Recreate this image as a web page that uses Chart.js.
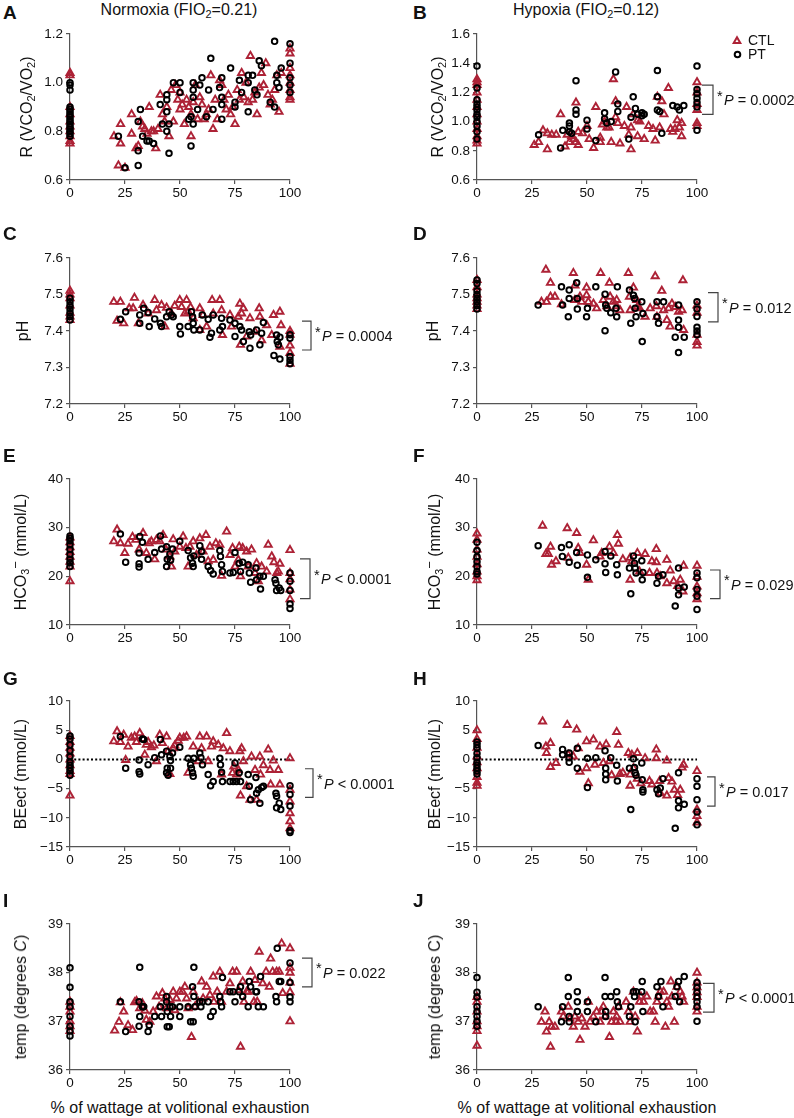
<!DOCTYPE html>
<html>
<head>
<meta charset="utf-8">
<script src="https://cdn.jsdelivr.net/npm/chart.js@4.4.1/dist/chart.umd.min.js"></script>
<style>
  body { margin: 0; background: #fff; font-family: "Liberation Sans", Arial, sans-serif; color: #111; }
  #page { position: relative; width: 794px; height: 1118px; overflow: hidden; }
  canvas { position: absolute; }
  .letter { position: absolute; font-weight: bold; font-size: 19px; line-height: 19px; }
  .coltitle { position: absolute; font-size: 16px; line-height: 18px; white-space: nowrap; transform: translateX(-50%); }
  .ylab { position: absolute; font-size: 16px; line-height: 18px; white-space: nowrap; transform: translate(-50%, -50%) rotate(-90deg); }
  .xlab { position: absolute; font-size: 16px; line-height: 18px; white-space: nowrap; transform: translate(-50%, -50%); }
  sub { font-size: 68%; vertical-align: -0.3em; line-height: 0; }
  sup { font-size: 80%; vertical-align: 0.45em; line-height: 0; }
</style>
</head>
<body>
<div id="page"></div>
<script>
// ── Data (x = % of wattage, y = measured value) ─────────────────────────────

var xTicks = [0, 25, 50, 75, 100];
var zeroLineX = [0, 100];

// A: R normoxia
var aCTL = [[0,1.04],[0,1.03],[0,0.90],[0,0.87],[0,0.84],[0,0.82],[0,0.80],[0,0.78],[0,0.76],[0,0.75],
  [20,0.78],[22,0.66],[23,0.83],[23,0.75],[25,0.65],[28,0.87],[28,0.79],[30,0.73],[31,0.74],[32,0.84],
  [33,0.82],[34,0.81],[35,0.79],[36,0.90],[37,0.80],[38,0.80],[39,0.73],[40,0.81],[41,0.95],[42,0.87],
  [43,0.84],[44,0.90],[45,0.78],[46,0.97],[47,0.84],[48,0.99],[49,0.93],[50,0.89],[50,0.96],[51,0.91],
  [52,0.83],[53,0.93],[54,0.90],[55,0.78],[55,0.87],[56,0.92],[57,0.99],[58,0.85],[59,0.94],[60,0.91],
  [61,0.85],[62,0.87],[63,0.89],[64,1.03],[65,0.81],[66,0.93],[67,0.85],[68,1.01],[69,0.99],[70,0.93],
  [71,0.89],[72,0.95],[73,0.87],[74,0.90],[75,0.83],[76,0.97],[77,0.93],[78,1.04],[79,0.94],[80,1.00],
  [81,0.92],[82,1.11],[83,0.93],[84,0.96],[85,0.87],[86,0.98],[87,1.04],[88,0.99],[89,1.08],[90,0.95],
  [91,0.91],[92,0.93],[93,0.97],[94,1.03],[95,0.88],[96,1.04],
  [100,1.14],[100,1.12],[100,1.06],[100,1.03],[100,1.00],[100,0.97],[100,0.94],[100,0.93]];
var aPT = [[0,1.00],[0,0.99],[0,0.97],[0,0.90],[0,0.89],[0,0.88],[0,0.87],[0,0.86],[0,0.85],[0,0.84],
  [0,0.83],[0,0.82],[0,0.81],[0,0.80],[0,0.79],[0,0.78],
  [22,0.78],[25,0.65],[31,0.84],[31,0.72],[31,0.66],[32,0.89],[33,0.78],[35,0.76],[36,0.76],[38,0.75],
  [41,0.91],[42,0.83],[44,0.95],[44,0.93],[44,0.80],[44,0.88],[45,0.83],[45,0.71],[47,1.00],[50,1.00],
  [50,0.96],[54,0.85],[55,0.86],[55,0.74],[56,1.00],[56,0.97],[56,0.94],[56,0.83],[58,0.89],[59,0.99],
  [60,1.02],[62,0.86],[63,0.97],[64,1.10],[65,0.89],[68,0.98],[69,1.02],[69,0.94],[69,0.91],[69,0.85],
  [73,1.06],[75,0.92],[75,0.90],[77,1.01],[78,0.96],[81,1.03],[81,1.00],[81,0.88],[83,1.03],[84,0.97],
  [85,0.95],[86,1.09],[87,1.07],[91,0.92],[93,1.17],[93,0.90],[94,1.03],[94,1.00],[95,0.98],[96,1.06],
  [100,1.16],[100,1.08],[100,1.02],[100,0.99],[100,0.96]];

// B: R hypoxia
var bCTL = [[0,1.29],[0,1.27],[0,1.25],[0,1.20],[0,1.15],[0,1.10],[0,1.05],[0,1.00],[0,0.95],[0,0.90],[0,0.87],[0,0.85],
  [26,0.84],[28,0.86],[30,0.94],[32,0.81],[32,0.92],[34,0.91],[36,0.91],[38,1.05],[40,0.83],[41,0.91],
  [42,0.86],[43,0.90],[44,0.88],[45,1.13],[45,0.86],[46,0.93],[46,0.84],[48,0.92],[50,0.97],[51,0.88],
  [53,0.82],[54,1.10],[56,0.89],[56,0.86],[57,0.98],[58,1.00],[59,0.96],[60,0.96],[61,0.86],[62,1.29],
  [63,1.14],[63,1.03],[64,0.99],[65,0.85],[67,0.97],[68,1.10],[69,0.91],[70,0.96],[70,0.81],[71,1.05],
  [73,1.01],[73,0.90],[74,1.00],[76,0.88],[78,0.97],[80,0.95],[81,0.87],[82,1.17],[83,0.96],[84,1.14],
  [85,1.05],[87,1.23],[88,0.95],[89,0.93],[90,0.95],[91,1.01],[92,0.96],[93,0.99],[93,0.90],
  [100,1.27],[100,1.20],[100,1.12],[100,1.08],[100,0.99],[100,0.97]];
var bPT = [[0,1.38],[0,1.23],[0,1.15],[0,1.12],[0,1.10],[0,1.08],[0,1.05],[0,1.03],[0,1.00],[0,0.97],[0,0.93],[0,0.88],
  [28,0.91],[38,0.82],[39,0.94],[42,0.99],[42,0.97],[42,0.93],[43,0.92],[45,1.28],[45,1.08],[45,1.05],
  [50,1.01],[50,0.95],[54,0.87],[58,1.06],[58,1.02],[59,0.99],[61,1.00],[63,1.34],[64,1.12],[64,1.07],
  [69,0.88],[70,1.03],[71,1.17],[72,1.09],[73,1.05],[75,1.06],[75,1.04],[76,1.05],[82,1.35],[82,1.17],
  [82,1.08],[83,1.07],[84,0.92],[89,1.11],[91,1.10],[92,1.08],[94,1.11],
  [100,1.38],[100,1.22],[100,1.19],[100,1.16],[100,1.13],[100,1.10],[100,0.94]];

// C: pH normoxia
var cCTL = [[0,7.51],[0,7.50],[0,7.49],[0,7.47],[0,7.45],[0,7.44],[0,7.43],
  [19.9,7.480],[22.9,7.480],[21.4,7.428],[24.4,7.421],[26.9,7.462],[29.3,7.491],[28.7,7.462],[31.1,7.421],
  [33.2,7.471],[35.5,7.448],[38.5,7.485],[39.3,7.457],[41.6,7.471],[43.1,7.412],[43.9,7.464],[46.1,7.448],
  [47.6,7.469],[49.9,7.485],[50.7,7.466],[52.2,7.448],[53.0,7.485],[53.7,7.453],[54.8,7.465],[56.0,7.435],
  [59.0,7.462],[59.0,7.403],[60.5,7.444],[62.1,7.412],[64.6,7.485],[65.1,7.448],[68.1,7.485],[68.9,7.457],
  [69.3,7.389],[72.7,7.444],[73.4,7.412],[76.5,7.439],[77.2,7.475],[78.0,7.448],[77.5,7.362],[78.8,7.462],
  [80.3,7.385],[81.8,7.435],[84.1,7.398],[86.0,7.462],[86.3,7.439],[87.1,7.375],[89.4,7.416],[91.7,7.389],
  [92.5,7.444],[95.4,7.453],[95.4,7.357],[95.9,7.416],
  [100,7.40],[100,7.39],[100,7.36],[100,7.34],[100,7.31]];
var cPT = [[0,7.49],[0,7.48],[0,7.47],[0,7.46],[0,7.45],[0,7.44],[0,7.43],
  [22.9,7.432],[25.3,7.453],[31.7,7.444],[31.7,7.421],[33.5,7.462],[35.5,7.451],[36.0,7.412],[38.5,7.433],
  [41.1,7.421],[41.6,7.412],[43.9,7.439],[45.1,7.453],[46.1,7.444],[46.9,7.439],[49.9,7.412],[50.2,7.392],
  [53.7,7.412],[55.2,7.453],[55.7,7.439],[56.0,7.421],[56.3,7.403],[59.0,7.403],[60.1,7.444],[62.8,7.432],
  [63.6,7.383],[64.3,7.394],[65.1,7.444],[68.1,7.403],[68.9,7.435],[69.3,7.412],[72.7,7.430],[75.0,7.421],
  [75.0,7.385],[77.2,7.412],[78.0,7.403],[78.8,7.371],[81.5,7.398],[81.8,7.353],[82.1,7.389],[84.8,7.403],
  [86.3,7.362],[87.1,7.394],[87.9,7.423],[92.7,7.333],[93.9,7.389],[94.2,7.371],[94.7,7.362],[95.4,7.323],
  [95.4,7.383],
  [100,7.39],[100,7.38],[100,7.33],[100,7.32],[100,7.31]];

// D: pH hypoxia
var dCTL = [[0,7.54],[0,7.52],[0,7.50],[0,7.49],[0,7.48],[0,7.47],[0,7.46],
  [29.3,7.480],[31.3,7.568],[31.6,7.480],[33.4,7.532],[33.4,7.494],[35.4,7.494],[38.4,7.473],[43.8,7.559],
  [44.5,7.525],[44.5,7.485],[46.8,7.494],[47.6,7.480],[49.8,7.519],[49.8,7.498],[50.6,7.480],[52.9,7.475],
  [54.4,7.462],[56.2,7.559],[57.4,7.485],[59.0,7.468],[60.2,7.532],[60.5,7.494],[62.0,7.480],[63.5,7.468],
  [63.5,7.485],[65.0,7.457],[68.8,7.559],[69.3,7.494],[69.6,7.457],[71.1,7.519],[72.6,7.485],[72.9,7.466],
  [73.9,7.462],[76.4,7.439],[78.7,7.462],[81.0,7.550],[81.5,7.468],[81.8,7.439],[84.0,7.510],[84.8,7.457],
  [86.3,7.430],[87.1,7.462],[87.8,7.412],[88.6,7.475],[90.1,7.466],[91.6,7.453],[93.2,7.457],[93.6,7.539],
  [93.9,7.403],
  [100,7.47],[100,7.45],[100,7.39],[100,7.37],[100,7.36]];
var dPT = [[0,7.54],[0,7.53],[0,7.51],[0,7.50],[0,7.49],[0,7.48],[0,7.47],[0,7.46],
  [27.8,7.471],[38.4,7.521],[38.9,7.471],[41.5,7.439],[41.9,7.512],[41.9,7.489],[45.3,7.532],[45.6,7.489],
  [45.6,7.460],[49.8,7.439],[50.2,7.462],[54.0,7.521],[58.2,7.401],[58.2,7.501],[58.5,7.471],[59.0,7.462],
  [60.8,7.450],[63.2,7.462],[63.5,7.439],[63.8,7.521],[69.3,7.512],[69.9,7.421],[71.1,7.498],[71.6,7.489],
  [71.9,7.462],[72.3,7.439],[74.9,7.480],[75.1,7.371],[75.4,7.448],[81.8,7.480],[81.8,7.439],[82.5,7.421],
  [84.8,7.480],[90.1,7.383],[91.6,7.471],[91.6,7.430],[91.6,7.410],[91.6,7.341],[94.2,7.383],
  [100,7.48],[100,7.46],[100,7.44],[100,7.41],[100,7.40],[100,7.39]];

// E: HCO3 normoxia
var eCTL = [[0,28],[0,27],[0,26],[0,25],[0,24],[0,23],[0,22],[0,19],
  [19.9,27.2],[21.4,29.6],[22.9,26.8],[24.9,24.8],[26.4,26.7],[28.4,28.1],[29.9,27.5],[31.4,25.5],
  [33.2,28.9],[34.7,24.8],[36.0,26.8],[37.0,27.2],[38.5,23.5],[39.3,27.5],[40.8,27.2],[42.3,28.5],
  [43.6,25.5],[45.4,24.1],[46.1,22.0],[46.9,27.6],[47.6,25.1],[49.9,26.1],[51.4,28.2],[52.7,25.8],
  [53.7,22.0],[54.5,26.1],[56.0,27.2],[57.5,24.4],[59.0,27.8],[60.5,25.1],[61.8,28.5],[62.8,23.1],
  [63.6,26.1],[65.1,23.4],[66.3,26.8],[68.1,26.5],[68.9,20.1],[71.2,29.2],[72.7,24.4],[73.9,25.8],
  [75.0,22.0],[76.5,23.4],[76.9,26.1],[77.5,20.0],[78.5,25.8],[80.3,25.1],[81.0,22.0],[82.5,25.5],
  [84.1,20.7],[84.8,22.7],[85.6,19.0],[87.1,22.0],[89.4,21.0],[90.1,26.5],[91.7,24.1],[92.7,22.9],
  [94.0,20.7],[94.7,21.0],[95.4,22.6],
  [100,25.4],[100,20.7],[100,19.4],[100,17.3],[100,15.3]];
var ePT = [[0,28.3],[0,27.8],[0,27.3],[0,26.5],[0,25.5],[0,24.5],[0,23.5],[0,22.8],[0,22.0],
  [22.9,28.7],[25.3,22.9],[31.4,24.8],[31.4,22.6],[31.4,21.9],[31.7,28.2],[32.9,27.0],[35.5,23.5],
  [38.5,24.9],[41.1,28.3],[41.6,25.6],[43.9,26.1],[43.9,22.0],[44.2,23.5],[45.4,24.6],[45.7,23.3],
  [46.6,25.6],[49.9,27.2],[53.7,25.3],[54.8,23.8],[55.7,22.7],[56.0,22.0],[56.3,24.2],[59.0,26.3],
  [59.8,25.1],[59.8,23.5],[62.8,22.0],[63.9,21.2],[65.1,20.5],[68.1,25.3],[68.4,24.1],[68.9,22.4],
  [69.3,21.0],[72.7,20.7],[74.2,20.8],[75.0,24.9],[76.9,22.7],[77.5,21.0],[78.5,22.9],[81.0,22.4],
  [81.5,20.7],[82.1,18.8],[84.5,21.7],[84.8,19.3],[86.3,20.0],[86.6,17.4],[87.9,20.0],[93.2,19.3],
  [93.6,18.6],[93.9,17.1],[95.1,17.6],[95.8,17.1],
  [100,20.7],[100,19.0],[100,17.1],[100,14.3],[100,13.4]];

// F: HCO3 hypoxia
var fCTL = [[0,28.8],[0,27.5],[0,25.5],[0,24.0],[0,22.5],[0,21.0],[0,20.0],[0,19.2],
  [29.8,30.4],[31.3,24.6],[32.4,24.6],[33.4,26.1],[33.9,22.4],[35.9,23.1],[41.0,29.9],[41.5,23.8],
  [45.3,28.9],[46.0,25.8],[46.8,24.8],[49.8,22.4],[50.6,19.3],[52.9,27.4],[55.9,24.1],[56.7,24.8],
  [60.2,26.1],[62.0,24.8],[63.8,28.5],[64.3,26.7],[66.3,23.5],[69.6,23.8],[69.6,19.3],[70.4,23.1],
  [72.9,24.8],[73.9,21.0],[76.4,24.6],[78.4,20.7],[79.5,23.1],[81.5,25.6],[81.5,22.9],[81.8,20.7],
  [83.3,20.0],[86.3,23.4],[86.3,18.6],[87.8,21.2],[89.4,19.0],[91.2,18.0],[92.4,19.3],[93.6,16.9],
  [93.9,22.2],
  [100,22.2],[100,19.9],[100,17.9],[100,16.5],[100,15.3]];
var fPT = [[0,27.0],[0,25.3],[0,24.0],[0,23.0],[0,22.0],[0,21.0],[0,20.5],
  [27.8,26.3],[38.4,25.9],[38.8,24.1],[41.9,26.5],[41.9,22.9],[45.3,24.9],[45.6,22.3],[50.2,24.4],
  [50.2,19.8],[54.0,23.4],[58.2,25.1],[58.2,22.6],[58.5,20.8],[60.8,24.2],[63.5,22.4],[63.8,20.3],
  [69.3,21.7],[69.9,16.4],[71.1,24.2],[71.6,22.7],[71.9,21.7],[72.3,20.7],[74.9,23.2],[75.1,19.3],
  [75.4,20.8],[81.8,18.6],[82.5,20.0],[84.5,20.3],[90.1,13.9],[91.6,21.7],[91.6,17.6],[91.6,16.2],
  [94.2,17.8],
  [100,20.7],[100,19.7],[100,17.3],[100,15.9],[100,13.2]];

// G: BEecf normoxia
var gCTL = [[0,4.0],[0,3.0],[0,2.0],[0,1.0],[0,0],[0,-1.0],[0,-2.0],[0,-2.5],[0,-6.2],
  [19.9,3.1],[21.4,4.8],[22.9,3.0],[24.4,4.2],[25.3,-0.1],[26.4,2.2],[27.9,3.7],[29.4,3.9],[30.2,3.0],
  [31.7,4.5],[33.2,3.5],[34.0,0.8],[34.7,2.5],[35.5,3.0],[37.0,2.1],[38.1,2.4],[39.3,-0.3],[40.8,4.2],
  [42.0,2.8],[43.9,3.9],[44.6,1.4],[45.4,-2.5],[46.9,1.9],[47.6,2.4],[49.2,3.2],[49.9,3.7],[51.7,3.7],
  [53.0,3.9],[53.7,-2.3],[56.0,2.2],[58.3,-0.3],[59.0,3.9],[59.8,1.9],[62.1,3.9],[62.8,-0.3],[64.3,2.2],
  [65.1,3.1],[67.4,2.5],[68.9,-2.6],[69.7,1.9],[71.2,4.5],[72.7,1.4],[73.9,-2.3],[74.5,-1.2],[75.7,-2.6],
  [76.5,-1.8],[77.2,1.4],[77.5,-6.2],[78.0,1.9],[78.8,-0.3],[80.3,-4.6],[81.8,-6.9],[82.5,0.5],[84.1,-1.8],
  [84.8,-6.9],[86.3,0.5],[86.6,-2.6],[87.9,-1.0],[90.1,1.7],[90.9,-1.8],[91.2,-4.3],[92.4,-0.2],[94.7,-1.8],
  [95.4,-4.3],
  [100,0.2],[100,-5.2],[100,-7.2],[100,-9.2],[100,-10.6],[100,-11.8]];
var gPT = [[0,4.0],[0,3.5],[0,2.5],[0,1.5],[0,0.5],[0,-0.5],[0,-1.0],[0,-1.5],[0,-2.0],[0,-2.7],
  [22.9,3.9],[25.3,-1.5],[31.4,-0.1],[31.4,-2.1],[31.7,-2.5],[32.9,3.5],[33.5,3.4],[35.5,-0.9],[38.5,0.3],
  [41.1,3.4],[41.6,0.8],[43.9,1.4],[43.9,-2.3],[44.2,-1.5],[44.6,-2.7],[45.4,0.5],[45.7,-0.2],[45.7,-1.5],
  [46.6,1.1],[49.9,2.1],[53.7,0.2],[54.8,-0.9],[55.2,-1.5],[55.7,-2.3],[56.0,-2.9],[56.3,0.2],[59.0,1.1],
  [59.5,0.3],[60.2,-0.9],[62.8,-2.6],[63.9,-4.5],[65.1,-3.8],[68.1,0.2],[68.4,-0.9],[68.9,-2.2],[69.3,-3.8],
  [72.7,-3.8],[74.2,-3.8],[75.0,-0.6],[75.7,-3.8],[76.9,-2.3],[77.5,-3.8],[81.0,-2.6],[81.5,-4.6],[82.1,-6.9],
  [84.5,-3.1],[84.8,-5.8],[85.6,-5.2],[86.3,-7.5],[87.1,-4.8],[87.9,-4.6],[93.6,-5.8],[93.9,-6.3],[93.9,-8.3],
  [95.1,-7.5],[95.8,-8.6],
  [100,-4.5],[100,-6.0],[100,-8.0],[100,-12.2],[100,-12.5]];

// H: BEecf hypoxia
var hCTL = [[0,5.0],[0,3.5],[0,2.0],[0,0.5],[0,-0.5],[0,-1.5],[0,-3.0],[0,-4.0],[0,-4.5],
  [29.8,6.5],[31.3,2.2],[31.6,1.1],[33.4,2.8],[33.4,-1.3],[35.9,-0.6],[41.0,5.9],[41.5,0.8],[43.8,0.5],
  [45.3,5.1],[46.0,1.9],[46.8,-2.1],[49.8,-1.5],[49.8,3.1],[50.6,-4.1],[52.9,3.4],[53.6,-0.9],[55.9,2.2],
  [57.4,-0.6],[58.7,2.6],[60.2,-0.3],[61.2,-2.7],[63.5,4.7],[64.3,2.5],[65.0,-2.5],[66.3,-2.3],[68.8,1.1],
  [69.6,-2.6],[69.6,-4.5],[70.4,0.8],[71.1,-1.5],[72.9,1.1],[72.9,-3.3],[74.5,-4.1],[76.4,0.2],[78.4,-3.7],
  [79.5,-4.3],[81.5,1.7],[81.5,0.2],[83.0,-3.7],[83.3,-5.8],[86.3,-0.2],[86.3,-6.2],[87.1,-3.2],[88.6,-3.8],
  [89.7,-5.2],[91.2,-6.1],[92.4,-5.2],[93.2,-1.4],[93.9,-0.9],
  [100,-2.0],[100,-8.6],[100,-9.7],[100,-10.8]];
var hPT = [[0,3.0],[0,2.5],[0,2.0],[0,1.0],[0,0.3],[0,-0.5],[0,-1.0],[0,-1.5],[0,-2.0],[0,-2.5],
  [27.8,2.4],[38.9,1.7],[38.9,0.8],[41.9,1.1],[41.9,-0.5],[41.9,0.3],[45.6,1.9],[45.6,-1.5],[50.2,0.2],
  [50.2,-4.8],[54.0,0.3],[58.2,1.5],[58.5,-1.5],[58.5,-2.5],[58.5,-3.5],[60.8,0.3],[63.5,-1.0],[63.8,-3.7],
  [69.3,-1.5],[69.9,-8.6],[71.1,0.1],[71.6,-1.4],[71.9,-2.3],[72.3,-2.7],[74.9,-0.6],[75.1,-3.5],[75.4,-5.2],
  [75.4,-5.6],[81.8,-5.2],[82.5,-5.9],[83.3,-4.9],[84.5,-3.3],[90.1,-11.8],[91.6,-2.3],[91.6,-7.1],
  [91.6,-8.3],[94.2,-7.7],
  [100,-3.3],[100,-4.6],[100,-6.9],[100,-9.0],[100,-11.2]];

// I: temperature normoxia
var iCTL = [[0,37.4],[0,37.3],[0,37.2],[0,37.0],[0,36.9],[0,36.8],
  [20.3,36.81],[22.3,36.99],[22.9,37.39],[24.4,37.20],[26.4,36.92],[28.4,36.82],[29.4,37.39],[30.2,37.42],
  [31.7,37.27],[32.9,37.37],[34.0,37.22],[34.7,37.03],[36.3,36.99],[37.8,37.20],[39.3,37.51],[40.5,37.30],
  [42.0,37.58],[43.1,37.47],[43.9,37.27],[45.4,37.44],[46.9,37.61],[47.6,37.23],[48.4,37.47],[49.9,37.61],
  [51.1,37.61],[52.2,37.71],[53.0,37.47],[53.7,37.27],[55.2,36.68],[56.0,37.61],[56.8,37.30],[58.3,37.40],
  [59.8,37.82],[60.5,37.47],[62.1,37.71],[63.6,37.54],[65.1,37.92],[65.4,37.40],[66.9,37.61],[68.1,38.02],
  [68.9,37.40],[71.2,37.61],[72.7,37.78],[73.9,38.02],[75.7,38.02],[76.5,37.64],[77.5,36.48],[78.5,37.82],
  [79.1,37.40],[80.3,37.61],[81.0,37.61],[82.1,38.02],[83.6,37.40],[84.1,37.85],[85.1,37.40],[86.0,38.43],
  [87.6,37.78],[89.1,38.02],[90.6,37.71],[91.2,38.29],[92.1,38.02],[93.9,38.02],[95.1,38.02],[96.2,38.60],
  [96.7,37.58],
  [100,38.5],[100,38.1],[100,38.0],[100,37.8],[100,37.6],[100,37.0]];
var iPT = [[0,38.1],[0,37.7],[0,37.4],[0,37.3],[0,37.1],[0,36.9],[0,36.8],[0,36.7],
  [22.9,37.40],[25.3,36.79],[31.4,36.90],[31.4,37.40],[31.7,38.11],[31.7,37.10],[32.9,37.30],[33.5,37.30],
  [35.5,36.79],[36.0,36.92],[38.5,37.10],[41.1,37.30],[41.6,37.10],[43.9,37.51],[43.9,37.40],[44.2,37.20],
  [44.2,36.89],[45.1,36.89],[45.4,37.30],[45.7,37.10],[46.6,37.30],[49.9,37.30],[49.9,37.10],[53.7,37.30],
  [54.8,36.99],[55.7,37.71],[56.0,36.99],[56.3,37.51],[56.3,38.11],[56.8,37.30],[59.0,37.40],[59.5,37.30],
  [60.2,37.40],[62.8,37.40],[63.9,37.10],[65.1,37.20],[68.1,37.51],[68.4,37.40],[68.9,37.30],[69.3,37.90],
  [72.7,37.61],[74.2,37.61],[75.0,37.40],[76.9,37.61],[77.5,37.71],[78.5,37.51],[81.0,37.30],[81.5,37.82],
  [82.1,37.71],[84.5,37.61],[84.8,37.61],[85.6,37.30],[86.6,37.92],[87.9,37.30],[93.6,37.51],[93.9,37.40],
  [94.2,38.50],[95.1,37.82],[95.8,37.82],
  [100,38.2],[100,37.8],[100,37.5],[100,37.4]];

// J: temperature hypoxia
var jCTL = [[0,37.5],[0,37.4],[0,37.2],[0,37.0],[0,36.9],[0,36.8],[0,36.5],
  [29.3,36.99],[30.9,37.20],[31.6,36.79],[32.8,36.99],[33.4,36.48],[33.9,36.89],[35.4,36.89],[38.4,37.20],
  [39.2,37.10],[41.5,37.30],[42.2,37.06],[43.8,36.89],[44.5,37.10],[46.0,36.99],[46.8,36.62],[47.6,37.06],
  [49.1,36.89],[50.6,37.40],[51.4,36.99],[52.9,37.10],[54.4,37.20],[55.9,36.99],[56.7,37.20],[57.4,37.30],
  [58.2,37.10],[60.2,36.68],[61.2,36.99],[62.0,37.20],[63.2,36.99],[63.5,37.10],[64.3,37.30],[65.0,36.99],
  [67.8,37.40],[68.8,37.20],[69.6,36.99],[71.1,37.61],[71.9,37.10],[72.9,36.79],[73.9,37.40],[74.5,37.51],
  [75.7,37.40],[77.2,37.51],[78.7,37.20],[80.2,37.20],[81.0,36.99],[81.8,37.40],[82.5,37.51],[83.3,37.61],
  [84.8,37.61],[85.6,36.89],[86.3,37.40],[87.1,37.30],[88.1,37.82],[88.6,37.51],[89.7,36.99],[90.9,37.71],
  [92.4,37.61],[93.2,37.51],[93.9,37.40],
  [100,38.0],[100,37.8],[100,37.7],[100,37.6],[100,37.5],[100,37.3],[100,37.2]];
var jPT = [[0,37.9],[0,37.6],[0,37.5],[0,37.3],[0,37.2],[0,37.1],[0,37.0],[0,36.9],
  [27.8,37.30],[38.4,36.99],[38.9,37.30],[41.5,37.90],[41.5,37.51],[41.9,37.10],[41.9,36.99],[45.6,37.61],
  [45.6,37.40],[45.6,37.20],[50.2,37.40],[50.2,37.20],[54.0,36.99],[58.2,37.90],[58.2,37.51],[58.5,37.20],
  [58.5,37.10],[60.8,37.51],[63.5,37.61],[63.8,37.40],[64.3,37.30],[69.3,37.10],[69.9,37.30],[71.1,37.61],
  [71.6,37.51],[71.9,36.99],[72.3,37.61],[74.9,37.61],[75.1,37.82],[75.4,37.20],[81.8,37.71],[82.5,37.51],
  [83.6,37.82],[84.5,37.30],[90.1,37.51],[90.9,37.71],[91.6,37.82],[92.1,37.40],[94.2,37.92],
  [100,37.8],[100,37.7],[100,37.6],[100,37.5],[100,37.4],[100,37.3],[100,37.0]];

// y ticks per row
var yTicksR1 = [0.6, 0.8, 1.0, 1.2];
var yTicksR2 = [0.6, 0.8, 1.0, 1.2, 1.4, 1.6];
var yTicksPH = [7.2, 7.3, 7.4, 7.5, 7.6];
var yTicksHCO = [10, 20, 30, 40];
var yTicksBE = [-15, -10, -5, 0, 5, 10];
var yTicksT = [36, 37, 38, 39];

// significance brackets (index = panel A..J)
var bracketLo = [null, 1.05, 7.348, 7.425, 15.4, 15.4, -6.5, -8.0, 37.71, 37.19];
var bracketHi = [null, 1.25, 7.427, 7.505, 23.6, 21.3, -1.6, -3.0, 38.30, 37.78];
var pLabels   = ['', '= 0.0002', '= 0.0004', '= 0.012', '< 0.0001', '= 0.029', '< 0.0001', '= 0.017', '= 0.022', '< 0.0001'];

var legendLabels = ['CTL', 'PT'];

// ── Layout / style ─────────────────────────────────────────────────────────
var FONT = '"Liberation Sans", Arial, sans-serif';
var RED = '#ad2236';
var AXIS = '#555';
var TXT = '#111';
var PLOT_W = 220, PLOT_H = 146, Y_W = 50, PAD_T = 12, PAD_R = 118, X_H = 28;
var colLeft = [70, 477];
var rowTop = [34, 258, 479, 701, 924];
var letterTop = [3, 224, 446, 669, 891];

var panels = [
  { id: 'A', ctl: aCTL, pt: aPT, yt: yTicksR1, dec: 1, ylab: 'R (VCO<sub>2</sub>/VO<sub>2</sub>)', lx: 27 },
  { id: 'B', ctl: bCTL, pt: bPT, yt: yTicksR2, dec: 1, ylab: 'R (VCO<sub>2</sub>/VO<sub>2</sub>)', lx: 438, legend: true, bx: [5, 16] },
  { id: 'C', ctl: cCTL, pt: cPT, yt: yTicksPH, dec: 1, ylab: 'pH', lx: 23, bx: [12, 21] },
  { id: 'D', ctl: dCTL, pt: dPT, yt: yTicksPH, dec: 1, ylab: 'pH', lx: 433, bx: [11, 21] },
  { id: 'E', ctl: eCTL, pt: ePT, yt: yTicksHCO, dec: 0, ylab: 'HCO<sub>3</sub><sup>\u2212</sup> (mmol/L)', lx: 21, bx: [10, 20] },
  { id: 'F', ctl: fCTL, pt: fPT, yt: yTicksHCO, dec: 0, ylab: 'HCO<sub>3</sub><sup>\u2212</sup> (mmol/L)', lx: 435, bx: [13, 23] },
  { id: 'G', ctl: gCTL, pt: gPT, yt: yTicksBE, dec: 0, ylab: 'BEecf (mmol/L)', lx: 21, bx: [15, 23], zero: true },
  { id: 'H', ctl: hCTL, pt: hPT, yt: yTicksBE, dec: 0, ylab: 'BEecf (mmol/L)', lx: 435, bx: [10, 18], zero: true },
  { id: 'I', ctl: iCTL, pt: iPT, yt: yTicksT, dec: 0, ylab: 'temp (degrees <i>C</i>)', lx: 21, bx: [12, 22] },
  { id: 'J', ctl: jCTL, pt: jPT, yt: yTicksT, dec: 0, ylab: 'temp (degrees C)', lx: 435, bx: [6, 17] }
];

Chart.defaults.font.family = FONT;

var page = document.getElementById('page');

function addHtml(cls, html, left, top) {
  var d = document.createElement('div');
  d.className = cls;
  d.innerHTML = html;
  d.style.left = left + 'px';
  d.style.top = top + 'px';
  page.appendChild(d);
  return d;
}

function toPts(arr) {
  return arr.map(function(p) { return { x: p[0], y: p[1] }; });
}

function fmtTick(v, dec) {
  var s = dec ? v.toFixed(dec) : String(Math.round(v));
  return v < 0 ? '\u2212' + s.substring(1) : s;
}

function drawTri(ctx, x, y, r) {
  ctx.beginPath();
  ctx.moveTo(x, y - r);
  ctx.lineTo(x + r * 0.866, y + r * 0.5);
  ctx.lineTo(x - r * 0.866, y + r * 0.5);
  ctx.closePath();
  ctx.stroke();
}

// bracket, P value and legend drawn after the points
function annotPlugin(idx, p) {
  return {
    id: 'annot' + idx,
    afterDatasetsDraw: function(chart) {
      var ctx = chart.ctx, ca = chart.chartArea, ys = chart.scales.y;
      ctx.save();
      if (bracketLo[idx] !== null) {
        var yHi = ys.getPixelForValue(bracketHi[idx]);
        var yLo = ys.getPixelForValue(bracketLo[idx]);
        var x0 = ca.right + p.bx[0], x1 = ca.right + p.bx[1];
        ctx.strokeStyle = '#444';
        ctx.lineWidth = 1.2;
        ctx.beginPath();
        ctx.moveTo(x0, yHi); ctx.lineTo(x1, yHi); ctx.lineTo(x1, yLo); ctx.lineTo(x0, yLo);
        ctx.stroke();
        var ym = (yHi + yLo) / 2;
        ctx.fillStyle = TXT;
        ctx.textBaseline = 'alphabetic';
        ctx.textAlign = 'left';
        ctx.font = '14.5px ' + FONT;
        ctx.fillText('*', x1 + 4, ym + 1);
        ctx.font = 'italic 14.5px ' + FONT;
        ctx.fillText('P', x1 + 11, ym + 5.5);
        var w = ctx.measureText('P').width;
        ctx.font = '14.5px ' + FONT;
        ctx.fillText(' ' + pLabels[idx], x1 + 11 + w, ym + 5.5);
      }
      if (p.legend) {
        var lx = ca.left + 260, ly = ca.top + 6.5;
        ctx.lineWidth = 2;
        ctx.strokeStyle = RED;
        drawTri(ctx, lx, ly + 0.5, 3.8);
        ctx.strokeStyle = '#000';
        ctx.beginPath();
        ctx.arc(lx + 0.5, ly + 14, 2.8, 0, Math.PI * 2);
        ctx.stroke();
        ctx.fillStyle = TXT;
        ctx.font = '14px ' + FONT;
        ctx.textBaseline = 'middle';
        ctx.fillText(legendLabels[0], lx + 11, ly + 1);
        ctx.fillText(legendLabels[1], lx + 11, ly + 14.5);
      }
      ctx.restore();
    }
  };
}

panels.forEach(function(p, idx) {
  var col = idx % 2, row = Math.floor(idx / 2);
  var plotL = colLeft[col], plotT = rowTop[row];
  var cw = Y_W + PLOT_W + PAD_R, chh = PAD_T + PLOT_H + X_H;

  var cv = document.createElement('canvas');
  cv.width = cw; cv.height = chh;
  cv.style.left = (plotL - Y_W) + 'px';
  cv.style.top = (plotT - PAD_T) + 'px';
  cv.style.width = cw + 'px';
  cv.style.height = chh + 'px';
  page.appendChild(cv);

  var datasets = [
    { label: legendLabels[1], data: toPts(p.pt), pointStyle: 'circle', pointRadius: 2.8,
      borderColor: '#000', backgroundColor: 'rgba(0,0,0,0)', borderWidth: 1.9, clip: false, order: 0 },
    { label: legendLabels[0], data: toPts(p.ctl), pointStyle: 'triangle', pointRadius: 4.1,
      borderColor: RED, backgroundColor: 'rgba(0,0,0,0)', borderWidth: 1.9, clip: false, order: 1 }
  ];
  if (p.zero) {
    datasets.push({ type: 'line', data: zeroLineX.map(function(x) { return { x: x, y: 0 }; }),
      borderColor: '#000', borderWidth: 2, borderDash: [2, 2.2], pointRadius: 0, order: 2, clip: false });
  }

  var yt = p.yt;
  new Chart(cv, {
    type: 'scatter',
    data: { datasets: datasets },
    options: {
      responsive: false,
      animation: false,
      devicePixelRatio: 1,
      events: [],
      layout: { padding: { top: PAD_T, right: PAD_R, left: 0, bottom: 0 } },
      plugins: { legend: { display: false }, tooltip: { enabled: false } },
      scales: {
        x: {
          type: 'linear', min: 0, max: 100,
          afterBuildTicks: function(s) { s.ticks = xTicks.map(function(v) { return { value: v }; }); },
          afterFit: function(s) { s.height = X_H; },
          grid: { display: true, drawOnChartArea: false, drawTicks: true, tickLength: 4, color: AXIS, lineWidth: 1.2 },
          border: { display: true, color: AXIS, width: 1.2 },
          ticks: { color: TXT, font: { size: 13.5 }, padding: 1, maxRotation: 0, autoSkip: false,
            callback: function(v) { return String(v); } }
        },
        y: {
          type: 'linear', min: yt[0], max: yt[yt.length - 1],
          afterBuildTicks: function(s) { s.ticks = yt.map(function(v) { return { value: v }; }); },
          afterFit: function(s) { s.width = Y_W; },
          grid: { display: true, drawOnChartArea: false, drawTicks: true, tickLength: 4, color: AXIS, lineWidth: 1.2 },
          border: { display: true, color: AXIS, width: 1.2 },
          ticks: { color: TXT, font: { size: 13.5 }, padding: 3, autoSkip: false,
            callback: function(v) { return fmtTick(v, p.dec); } }
        }
      }
    },
    plugins: [annotPlugin(idx, p)]
  });

  addHtml('letter', p.id, col ? 413 : 3, letterTop[row]);
  addHtml('ylab', p.ylab, p.lx, plotT + PLOT_H / 2);
});

addHtml('coltitle', 'Normoxia (FIO<sub>2</sub>=0.21)', 179, 1);
addHtml('coltitle', 'Hypoxia (FIO<sub>2</sub>=0.12)', 586, 1);
addHtml('xlab', '% of wattage at volitional exhaustion', 180, 1108);
addHtml('xlab', '% of wattage at volitional exhaustion', 587, 1108);
</script>
</body>
</html>
